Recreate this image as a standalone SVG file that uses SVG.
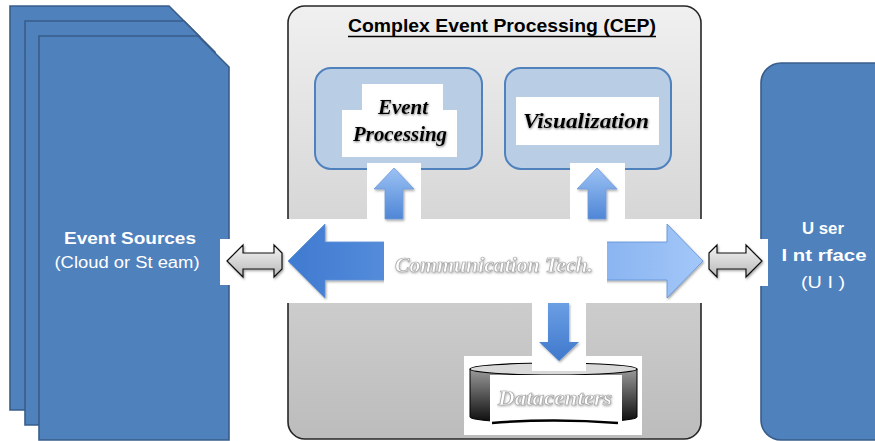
<svg xmlns="http://www.w3.org/2000/svg" width="875" height="441" viewBox="0 0 875 441">
  <defs>
    <linearGradient id="cepFill" x1="0" y1="0" x2="0" y2="1">
      <stop offset="0" stop-color="#f0f0f0"/>
      <stop offset="1" stop-color="#bcbcbc"/>
    </linearGradient>
    <linearGradient id="commFill" x1="0" y1="0" x2="1" y2="0">
      <stop offset="0" stop-color="#3f7ad0"/>
      <stop offset="0.5" stop-color="#6da0e6"/>
      <stop offset="1" stop-color="#a3c7f9"/>
    </linearGradient>
    <linearGradient id="upFill" x1="0" y1="0" x2="0" y2="1">
      <stop offset="0" stop-color="#9cc2f4"/>
      <stop offset="1" stop-color="#4f86d6"/>
    </linearGradient>
    <linearGradient id="downFill" x1="0" y1="0" x2="0" y2="1">
      <stop offset="0" stop-color="#6b9fe4"/>
      <stop offset="1" stop-color="#3f78cc"/>
    </linearGradient>
    <linearGradient id="grayArrow" x1="0" y1="0" x2="0" y2="1">
      <stop offset="0" stop-color="#f4f4f4"/>
      <stop offset="1" stop-color="#b8b8b8"/>
    </linearGradient>
    <linearGradient id="cylSide" x1="0" y1="0" x2="0" y2="1">
      <stop offset="0" stop-color="#9a9a9a"/>
      <stop offset="1" stop-color="#0a0a0a"/>
    </linearGradient>
    <filter id="soft" x="-10%" y="-20%" width="120%" height="140%">
      <feDropShadow dx="1" dy="1.5" stdDeviation="1" flood-color="#000" flood-opacity="0.35"/>
    </filter>
    <filter id="glow" x="-10%" y="-30%" width="120%" height="160%">
      <feDropShadow dx="0.5" dy="1" stdDeviation="1.2" flood-color="#555" flood-opacity="0.8"/>
    </filter>
    <filter id="halo" x="-10%" y="-30%" width="120%" height="160%">
      <feDropShadow dx="0.5" dy="1" stdDeviation="1" flood-color="#777" flood-opacity="0.6"/>
    </filter>
  </defs>
  <style>
    .blue { fill: #4f81bd; stroke: #385d8a; stroke-width: 1.6; }
    .inner { fill: #b9cde5; stroke: #4f81bd; stroke-width: 2; }
    .white { fill: #ffffff; }
    .label { font-family: "Liberation Sans", Arial, sans-serif; fill: #ffffff; text-anchor: middle; }
    .script { font-family: "Liberation Serif", "DejaVu Serif", serif; font-style: italic; font-weight: bold; text-anchor: middle; }
    .ink { fill: #000000; }
    .ghost { fill: #ffffff; stroke: #a6a6a6; stroke-width: 0.7; }
    .gray { fill: url(#grayArrow); stroke: #111; stroke-width: 1.2; }
  </style>

  <rect width="875" height="441" fill="#ffffff"/>

  <!-- Event sources: a stack of three clipped-corner sheets -->
  <g id="event-sources">
    <path class="blue" d="M10 6 H169 L200 37 V410 H10 Z"/>
    <path class="blue" d="M25 21 H184 L215 52 V425 H25 Z"/>
    <path class="blue" d="M39 36 H198 L229 67 V440 H39 Z"/>
    <text class="label" x="130" y="244" font-size="17" font-weight="bold" textLength="132" lengthAdjust="spacingAndGlyphs">Event Sources</text>
    <text class="label" x="127" y="268" font-size="16" textLength="145" lengthAdjust="spacingAndGlyphs">(Cloud or St eam)</text>
  </g>

  <!-- CEP container -->
  <g id="cep">
    <rect x="288" y="6" width="413" height="433" rx="17" fill="url(#cepFill)" stroke="#262626" stroke-width="1.6"/>
    <text x="502" y="32" font-family="Liberation Sans, Arial, sans-serif" font-size="17.5" font-weight="bold" text-anchor="middle" textLength="308" lengthAdjust="spacingAndGlyphs" fill="#000">Complex Event Processing (CEP)</text>
    <line x1="348" y1="36.5" x2="656" y2="36.5" stroke="#000" stroke-width="1.5"/>
  </g>

  <!-- User interface -->
  <g id="user-interface">
    <rect x="761" y="63" width="140" height="377" rx="20" class="blue"/>
    <text class="label" x="823" y="234" font-size="17" font-weight="bold" textLength="42" lengthAdjust="spacingAndGlyphs">U ser</text>
    <text class="label" x="824" y="261" font-size="17" font-weight="bold" textLength="85" lengthAdjust="spacingAndGlyphs">I nt rface</text>
    <text class="label" x="823" y="288" font-size="17" textLength="44" lengthAdjust="spacingAndGlyphs">(U I )</text>
  </g>

  <!-- Event processing module -->
  <g id="event-processing">
    <rect x="315" y="68" width="167" height="101" rx="16" class="inner"/>
    <path class="white" d="M362 84 H443 V110 H457 V157 H342 V110 H362 Z"/>
    <g filter="url(#glow)">
      <text class="script ink" x="403" y="114" font-size="21">Event</text>
      <text class="script ink" x="400" y="141" font-size="21" textLength="94" lengthAdjust="spacingAndGlyphs">Processing</text>
    </g>
  </g>

  <!-- Visualization module -->
  <g id="visualization">
    <rect x="505" y="68" width="166" height="101" rx="16" class="inner"/>
    <rect x="516" y="97" width="143" height="48" class="white"/>
    <text class="script ink" x="586" y="128" font-size="22" textLength="126" lengthAdjust="spacingAndGlyphs" filter="url(#glow)">Visualization</text>
  </g>

  <!-- Datacenters store -->
  <g id="datacenters">
    <rect x="464" y="356" width="178" height="79" class="white"/>
    <path d="M470 369 V417 A83.5 6 0 0 0 637 417 V369 Z" fill="url(#cylSide)" stroke="#000" stroke-width="1"/>
    <ellipse cx="553.5" cy="369" rx="83.5" ry="6" fill="#d9d9d9" stroke="#000" stroke-width="1.2"/>
    <rect x="490" y="375" width="132" height="50" class="white"/>
    <path d="M492 423 Q553 418 618 423" fill="none" stroke="#000" stroke-width="2.5"/>
    <text class="script ghost" x="555" y="405" font-size="20" textLength="114" lengthAdjust="spacingAndGlyphs" filter="url(#halo)">Datacenters</text>
  </g>

  <!-- Connectors -->
  <g id="connectors">
    <!-- white grounds behind the arrows -->
    <rect x="220" y="239" width="63" height="46" class="white"/>
    <rect x="704" y="239" width="64" height="47" class="white"/>
    <rect x="283" y="219" width="422" height="84" class="white"/>
    <rect x="367" y="163" width="54" height="56" class="white"/>
    <rect x="570" y="163" width="55" height="56" class="white"/>
    <rect x="532" y="303" width="54" height="68" class="white"/>

    <!-- small grey double arrows -->
    <path class="gray" filter="url(#soft)" d="M227 261 L243 245 V253 H274 V245 L282 253 V269 L274 277 V269 H243 V277 Z"/>
    <path class="gray" filter="url(#soft)" d="M709 253 L717 245 V253 H746 V245 L762 261 L746 277 V269 H717 V277 L709 269 Z"/>

    <!-- communication double arrow -->
    <path fill="url(#commFill)" stroke="#5d8fd6" stroke-width="0.8" filter="url(#soft)" d="M288 261 L325 224 V242 H667 V224 L703 261 L667 298 V280 H325 V298 Z"/>
    <rect x="384" y="236" width="223" height="50" class="white"/>
    <text class="script ghost" x="494" y="272" font-size="22" textLength="198" lengthAdjust="spacingAndGlyphs" filter="url(#halo)">Communication Tech.</text>

    <!-- up arrows into the modules -->
    <path fill="url(#upFill)" stroke="#6f9ad8" stroke-width="0.8" filter="url(#soft)" d="M394 168 L414 189 H403 V219 H385 V189 H374 Z"/>
    <path fill="url(#upFill)" stroke="#6f9ad8" stroke-width="0.8" filter="url(#soft)" d="M597 168 L617 189 H606 V219 H588 V189 H577 Z"/>

    <!-- down arrow into the store -->
    <path fill="url(#downFill)" filter="url(#soft)" d="M548 303 H569 V342 H579 L559 361 L539 342 H548 Z"/>
  </g>
</svg>
